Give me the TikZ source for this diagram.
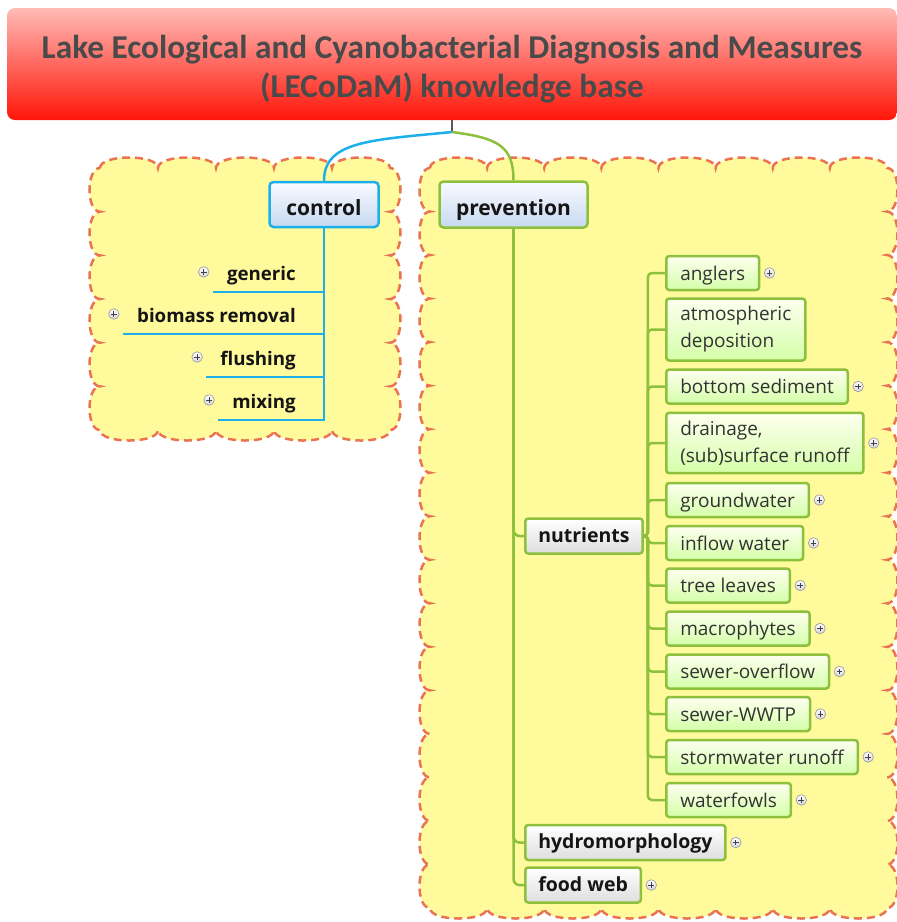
\documentclass[tikz,border=0pt]{standalone}
\usepackage{fontspec}
\setmainfont{Open Sans}
\newfontfamily\titlefont{Carlito}
\usetikzlibrary{positioning}

\definecolor{mapblue}{HTML}{1CAFEA}
\definecolor{mapgreen}{HTML}{8DC03C}
\definecolor{cloudfill}{HTML}{FFFB9C}
\definecolor{cloudline}{HTML}{EA7452}
\definecolor{titletop}{HTML}{FFBBB6}
\definecolor{titlebot}{HTML}{FF1508}
\definecolor{titletext}{HTML}{4A4A4A}
\definecolor{labeltext}{HTML}{151515}
\definecolor{leaftext}{HTML}{333333}
\definecolor{mainbot}{HTML}{C6D9F1}

\begin{document}
\begin{tikzpicture}[x=1pt,y=-1pt,
    cloud/.style={fill=cloudfill,draw=cloudline,line width=2.5pt,dash pattern=on 8pt off 5pt},
    blueline/.style={draw=mapblue,line width=2.5pt},
    greenline/.style={draw=mapgreen,line width=2.5pt,rounded corners=6pt},
    leaflink/.style={draw=mapgreen,line width=2.5pt,rounded corners=4pt},
    titlebox/.style={rounded corners=8pt,minimum width=890pt,minimum height=112pt,
        top color=titletop,bottom color=titlebot,align=center,text=titletext,
        font=\titlefont\bfseries\fontsize{33.3}{39}\selectfont},
    mainbox/.style={draw=#1,line width=2.5pt,rounded corners=4pt,top color=blue!2!white,
        bottom color=mainbot,text=labeltext,text height=21pt,text depth=0pt,
        font=\bfseries\fontsize{21}{25}\selectfont},
    ctrlitem/.style={inner xsep=14pt,inner ysep=7pt,text height=14pt,text depth=5pt,
        text=labeltext,font=\bfseries\fontsize{18.7}{22}\selectfont},
    subbox/.style={draw=mapgreen,line width=2.5pt,rounded corners=3pt,top color=white,
        bottom color=black!13,minimum height=35pt,inner xsep=13pt,text height=15pt,text depth=3pt,
        text=labeltext,font=\bfseries\fontsize{19.5}{23}\selectfont},
    leafbox/.style={draw=mapgreen,line width=2.5pt,rounded corners=3pt,top color=green!5!yellow!6!white,
        bottom color=green!50!yellow!34!white,minimum height=34pt,inner xsep=14pt,inner ysep=8pt,
        align=left,text=leaftext,font=\fontsize{19}{27}\selectfont},
    expander/.style={circle,draw=gray!75,line width=0.7pt,inner sep=0pt,minimum size=10.5pt,
        top color=white,bottom color=blue!10!gray!30,
        path picture={\draw[line width=1pt,black!75]
            ([xshift=-2.8pt]path picture bounding box.center) -- ([xshift=2.8pt]path picture bounding box.center)
            ([yshift=-2.8pt]path picture bounding box.center) -- ([yshift=2.8pt]path picture bounding box.center);}}
    ]

    \useasboundingbox (0,0) rectangle (897,922);

    % clouds behind the two branches
    \draw[cloud] (100,168)
        \foreach \i in {1,...,5} { .. controls +(0,-14) and +(0,-14) .. ++(58,0) }
        \foreach \i in {1,...,6} { .. controls +(14,0) and +(14,0) .. ++(0,43.67) }
        \foreach \i in {1,...,5} { .. controls +(0,14) and +(0,14) .. ++(-58,0) }
        \foreach \i in {1,...,6} { .. controls +(-14,0) and +(-14,0) .. ++(0,-43.67) }
        -- cycle;
    \draw[cloud] (430,168)
        \foreach \i in {1,...,8} { .. controls +(0,-14) and +(0,-14) .. ++(57.125,0) }
        \foreach \i in {1,...,17} { .. controls +(14,0) and +(14,0) .. ++(0,43.53) }
        \foreach \i in {1,...,8} { .. controls +(0,14) and +(0,14) .. ++(-57.125,0) }
        \foreach \i in {1,...,17} { .. controls +(-14,0) and +(-14,0) .. ++(0,-43.53) }
        -- cycle;

    % central topic
    \node[titlebox] (title) at (452,64) {\rule{0pt}{33pt}Lake Ecological and Cyanobacterial Diagnosis and Measures\\(LECoDaM) knowledge base};
    \coordinate (hub) at (452,132);

    % main topics
    \node[mainbox=mapblue,minimum width=109pt,minimum height=45pt] (control) at (324,204.5) {control};
    \node[mainbox=mapgreen,minimum width=148pt,minimum height=46pt] (prevention) at (513.5,204.5) {prevention};

    % control branch
    \node[ctrlitem,anchor=base east] (generic) at (310,280) {generic};
    \node[ctrlitem,anchor=base east] (biomass) at (310,322) {biomass removal};
    \node[ctrlitem,anchor=base east] (flushing) at (310,365) {flushing};
    \node[ctrlitem,anchor=base east] (mixing) at (310,408) {mixing};
    \foreach \n in {generic,biomass,flushing,mixing}
        \node[expander,left=3.5pt of \n.west,yshift=3.5pt] (\n-x) {};

    % prevention branch
    \node[subbox,anchor=west] (nutrients) at (524,536) {nutrients};
    \node[subbox,anchor=west] (hydro) at (524,842.5) {hydromorphology};
    \node[subbox,anchor=west] (foodweb) at (524,885) {food web};

    % nutrient sources
    \foreach \n/\y/\txt in {anglers/273/anglers,sediment/386.5/bottom sediment,
            ground/500/groundwater,inflow/543/inflow water,leaves/585.5/tree leaves,
            macro/628.5/macrophytes,overflow/671.5/sewer-overflow,wwtp/714/sewer-WWTP,
            storm/757/stormwater runoff,fowls/800/waterfowls}
        \node[leafbox,anchor=west,text height=16pt,text depth=2pt] (\n) at (665,\y) {\txt};
    \node[leafbox,anchor=west] (atmos) at (665,329.5) {atmospheric\\deposition};
    \node[leafbox,anchor=west] (drainage) at (665,443) {drainage,\\(sub)surface runoff};

    \foreach \n in {anglers,sediment,drainage,ground,inflow,leaves,macro,overflow,wwtp,storm,fowls,hydro,foodweb}
        \node[expander,right=3.5pt of \n] (\n-x) {};

    % connectors
    \draw[gray!70!black,line width=2pt] (title.south) -- (hub);
    \draw[blueline] (hub) .. controls +(-80,8) and +(0,-40) .. (control.north);
    \draw[greenline] (hub) .. controls +(45,6) and +(0,-35) .. (prevention.north);

    \foreach \n in {generic,biomass,flushing,mixing}
        \draw[blueline] (control.south) |- (\n.south west);

    \foreach \n in {nutrients,hydro,foodweb}
        \draw[greenline] (prevention.south) |- (\n.west);

    \foreach \n in {anglers,atmos,sediment,drainage,ground,inflow,leaves,macro,overflow,wwtp,storm,fowls}
        \draw[leaflink] (nutrients.east) -- ++(4,0) |- (\n.west);

\end{tikzpicture}
\end{document}
